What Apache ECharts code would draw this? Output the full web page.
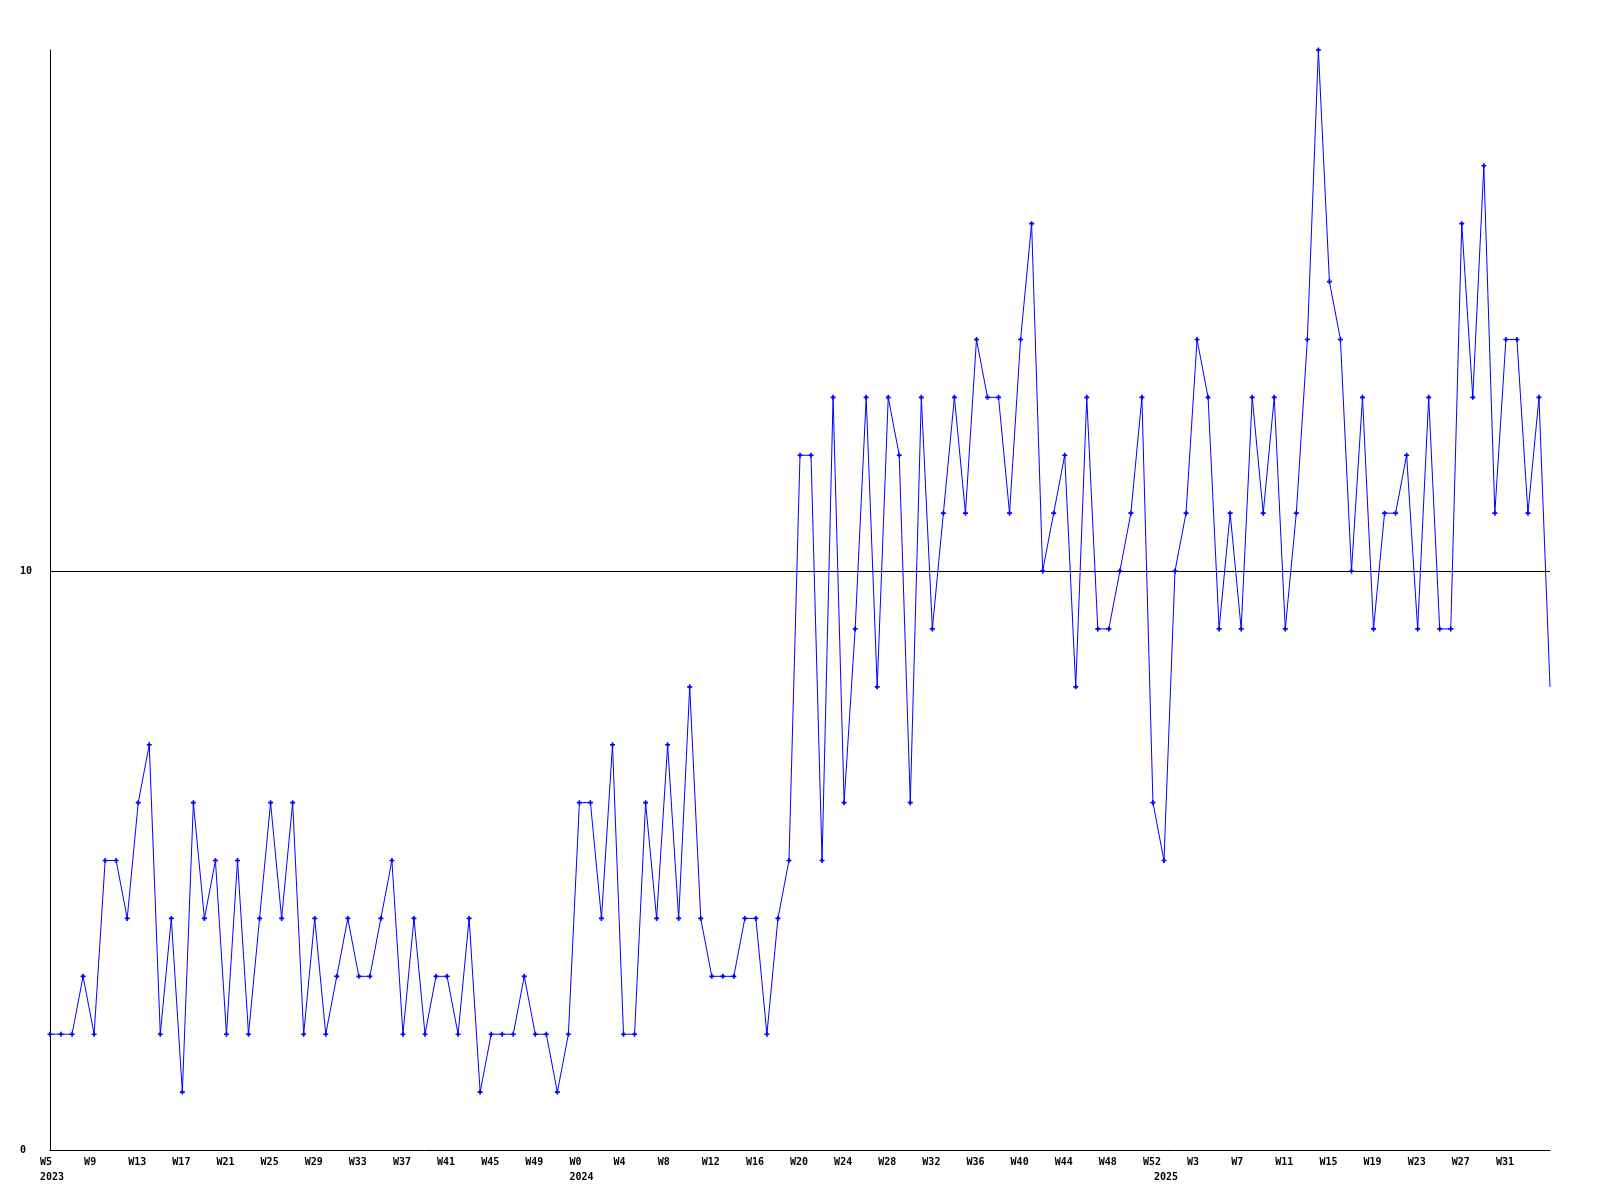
<!DOCTYPE html>
<html>
<head>
<meta charset="utf-8">
<script src="https://cdn.jsdelivr.net/npm/echarts@6/dist/echarts.min.js"></script>
<style>
  html, body { margin: 0; padding: 0; background: #ffffff; }
  #chart { width: 1600px; height: 1200px; }
</style>
</head>
<body>
<div id="chart"></div>
<script>
// Week categories per year
const weeks2023 = 'W5 W6 W7 W8 W9 W10 W11 W12 W13 W14 W15 W16 W17 W18 W19 W20 W21 W22 W23 W24 W25 W26 W27 W28 W29 W30 W31 W32 W33 W34 W35 W36 W37 W38 W39 W40 W41 W42 W43 W44 W45 W46 W47 W48 W49 W50 W51 W52'.split(' ');
const weeks2024 = 'W0 W1 W2 W3 W4 W5 W6 W7 W8 W9 W10 W11 W12 W13 W14 W15 W16 W17 W18 W19 W20 W21 W22 W23 W24 W25 W26 W27 W28 W29 W30 W31 W32 W33 W34 W35 W36 W37 W38 W39 W40 W41 W42 W43 W44 W45 W46 W47 W48 W49 W50 W51 W52'.split(' ');
const weeks2025 = 'W0 W1 W2 W3 W4 W5 W6 W7 W8 W9 W10 W11 W12 W13 W14 W15 W16 W17 W18 W19 W20 W21 W22 W23 W24 W25 W26 W27 W28 W29 W30 W31 W32 W33 W34 W35'.split(' ');

// Year labels shown under the week labels (category index -> year)
const yearLabelIndex = [0, 48, 101];
const yearLabelText = ['2023', '2024', '2025'];

// Series values
const values2023 = [2,2,2,3,2,5,5,4,6,7, 2,4,1,6,4,5,2,5,2,4, 6,4,6,2,4,2,3,4,3,3, 4,5,2,4,2,3,3,2,4,1, 2,2,2,3,2,2,1,2];
const values2024 = [6,6,4,7,2,2,6,4,7,4, 8,4,3,3,3,4,4,2,4,5, 12,12,5,13,6,9,13,8,13,12, 6,13,9,11,13,11,14,13,13,11, 14,16,10,11,12,8,13,9,9,10, 11,13,6];
const values2025 = [5,10,11,14,13,9,11,9,13,11, 13,9,11,14,19,15,14,10,13,9, 11,11,12,9,13,9,9,16,13,17, 11,14,14,11,13,8];

// Y axis ticks
const yMin = 0, yMax = 19, yInterval = 10;

const categories = weeks2023.concat(weeks2024, weeks2025);
const values = values2023.concat(values2024, values2025);
const lastIdx = values.length - 1;
const seriesData = values.map((v, i) => i === lastIdx ? { value: v, symbol: 'none' } : v);

const font = { color: '#000', fontFamily: 'DejaVu Sans Mono', fontWeight: 'bold', fontSize: 10 };

const chart = echarts.init(document.getElementById('chart'), null, { renderer: 'canvas' });
chart.setOption({
  backgroundColor: '#ffffff',
  animation: false,
  grid: { left: 50, right: 50, top: 50, bottom: 50, containLabel: false },
  xAxis: {
    type: 'category',
    data: categories,
    boundaryGap: false,
    axisLine: { show: true, lineStyle: { color: '#000', width: 1 } },
    axisTick: { show: false },
    splitLine: { show: false },
    axisLabel: Object.assign({}, font, {
      interval: (idx) => (idx % 4 === 0 && idx !== lastIdx) || yearLabelIndex.indexOf(idx) >= 0,
      formatter: (val, idx) => {
        const k = yearLabelIndex.indexOf(idx);
        if (k < 0) return val;
        if (idx % 4 !== 0) return '\n' + yearLabelText[k];
        return val + '\n' + yearLabelText[k];
      },
      align: 'left',
      padding: [0, 0, 0, -10],
      lineHeight: 15,
      margin: 5
    })
  },
  yAxis: {
    type: 'value',
    min: yMin,
    max: yMax,
    interval: yInterval,
    axisLine: { show: true, lineStyle: { color: '#000', width: 1 } },
    axisTick: { show: false },
    splitLine: { show: true, showMinLine: false, showMaxLine: false, lineStyle: { color: '#000', width: 1 } },
    axisLabel: Object.assign({}, font, {
      showMaxLabel: false,
      align: 'left',
      margin: 30
    })
  },
  series: [{
    type: 'line',
    data: seriesData,
    symbol: 'path://M1,0H2V1H3V2H2V3H1V2H0V1H1Z',
    symbolSize: 5,
    showAllSymbol: true,
    lineStyle: { color: '#0000ff', width: 1 },
    itemStyle: { color: '#0000ff' },
    z: 3
  }]
});
</script>
</body>
</html>
